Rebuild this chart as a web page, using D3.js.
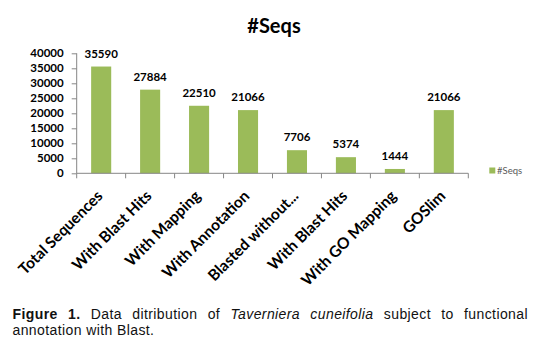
<!DOCTYPE html>
<html><head><meta charset="utf-8">
<script src="https://cdn.jsdelivr.net/npm/d3@7"></script>
<style>body{margin:0;background:#fff}svg{display:block}</style>
</head><body>
<svg id="c" width="543" height="355"></svg>
<script>
const categories = ["Total Sequences","With Blast Hits","With Mapping","With Annotation","Blasted without...","With Blast Hits","With GO Mapping","GOSlim"];
const seqs = [35590, 27884, 22510, 21066, 7706, 5374, 1444, 21066];
const yTicks = [0,5000,10000,15000,20000,25000,30000,35000,40000];
const seriesName = "#Seqs";
const title = "#Seqs";

const svg = d3.select("#c");
const chartFont = "Lato, 'Open Sans', sans-serif";
const x = d3.scaleBand().domain(d3.range(categories.length)).range([76.7, 468.3]).paddingInner(0.59).paddingOuter(0.295);
const y = d3.scaleLinear().domain([0, 40000]).range([173.3, 53.3]);
const green = "#9BBB59", axisCol = "#868686";

svg.append("text").attr("x", 274).attr("y", 32.5).attr("text-anchor","middle")
  .style("font-family", chartFont).style("font-weight","bold").style("font-size","20px").text(title);

// y axis
const ya = svg.append("g").attr("transform","translate(76.7,0)")
  .call(d3.axisLeft(y).tickValues(yTicks).tickSize(5).tickPadding(8).tickFormat(d3.format("d")));
ya.select(".domain").attr("stroke", axisCol).attr("d","M0,"+y(40000)+"V"+y(0));
ya.selectAll(".tick line").attr("stroke", axisCol);
ya.selectAll(".tick text").style("font-family", chartFont).style("font-weight","bold").style("font-size","11.5px").attr("fill","#000");

// bars
svg.selectAll("rect.bar").data(seqs).join("rect").attr("class","bar")
  .attr("x",(d,i)=>x(i)).attr("width",x.bandwidth())
  .attr("y",d=>y(d)).attr("height",d=>y(0)-y(d)).attr("fill",green);

// x axis
const step = x.step();
const xa = svg.append("g").attr("transform","translate(0,173.3)");
xa.append("line").attr("x1",76.7).attr("x2",468.3).attr("stroke",axisCol);
xa.selectAll("line.tk").data(d3.range(categories.length+1)).join("line").attr("class","tk")
  .attr("x1",i=>76.7+i*step).attr("x2",i=>76.7+i*step).attr("y1",0).attr("y2",5).attr("stroke",axisCol);

// data labels
svg.selectAll("text.val").data(seqs).join("text").attr("class","val")
  .attr("x",(d,i)=>x(i)+x.bandwidth()/2).attr("y",d=>y(d)-9).attr("text-anchor","middle")
  .style("font-family", chartFont).style("font-weight","bold").style("font-size","11.5px").text(d=>d);

// category labels
svg.selectAll("text.cat").data(categories).join("text").attr("class","cat")
  .attr("transform",(d,i)=>`translate(${x(i)+x.bandwidth()/2+2.5},197) rotate(-45)`)
  .attr("text-anchor","end")
  .style("font-family", chartFont).style("font-weight","bold").style("font-size","15.5px").text(d=>d);

// legend
svg.append("rect").attr("x",489.3).attr("y",167.5).attr("width",6).attr("height",6).attr("fill",green);
svg.append("text").attr("x",497).attr("y",174).style("font-family", chartFont).style("font-size","9.5px").attr("fill","#595959").text(seriesName);

// caption (justified first line)
const capFont = "'Liberation Sans', Arial, sans-serif";
const words = [
  {t:"Figure", w:"bold"}, {t:"1.", w:"bold"}, {t:"Data"}, {t:"ditribution"}, {t:"of"},
  {t:"Taverniera", i:true}, {t:"cuneifolia", i:true}, {t:"subject"}, {t:"to"}, {t:"functional"}
];
const cap = svg.append("g").style("font-family", capFont).style("font-size","14px").style("letter-spacing","0.4px").attr("fill","#111");
const ws = cap.selectAll("text.w").data(words).join("text").attr("class","w").attr("y",319)
  .style("font-weight",d=>d.w||"normal").style("font-style",d=>d.i?"italic":"normal").text(d=>d.t);
const lens = ws.nodes().map(n=>n.getComputedTextLength());
const total = d3.sum(lens), x0 = 12.5, x1 = 528;
const gap = (x1 - x0 - total)/(words.length-1);
let cx = x0;
ws.attr("x",(d,i)=>{const v = cx; cx += lens[i] + gap; return v;});
cap.append("text").attr("x",12.5).attr("y",335).text("annotation with Blast.");
</script>
</body></html>
